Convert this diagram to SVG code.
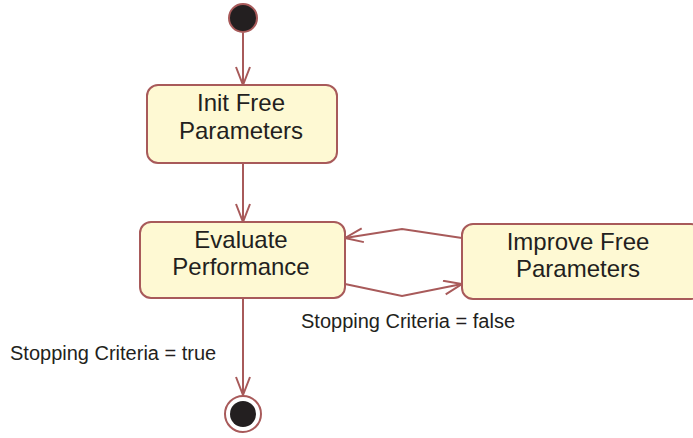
<svg xmlns="http://www.w3.org/2000/svg" width="693" height="438" viewBox="0 0 693 438">
<defs>
<style>
.node{fill:#FEF9D3;stroke:#A85A5A;stroke-width:2}
.t{font-family:"Liberation Sans",Arial,sans-serif;font-size:24px;fill:#231F20;text-anchor:middle}
.lbl{font-family:"Liberation Sans",Arial,sans-serif;font-size:20px;fill:#231F20}
.edge{fill:none;stroke:#A85A5A;stroke-width:2}
</style>
<marker id="arr" markerWidth="22" markerHeight="18" refX="19" refY="8" orient="auto" markerUnits="userSpaceOnUse">
<path d="M1,1 L19,8 L1,15" fill="none" stroke="#A85A5A" stroke-width="2"/>
</marker>
</defs>
<rect width="693" height="438" fill="#FFFFFF"/>
<g id="connectors">
<path class="edge" d="M243,33 L243,85" marker-end="url(#arr)"/>
<path class="edge" d="M243,163 L243,222" marker-end="url(#arr)"/>
<path class="edge" d="M243,298 L243,395" marker-end="url(#arr)"/>
<path class="edge" d="M462,238 L402,229 L345,238" marker-end="url(#arr)"/>
<path class="edge" d="M345,284 L402,296 L462,284" marker-end="url(#arr)"/>
<text class="lbl" x="301" y="328">Stopping Criteria = false</text>
<text class="lbl" x="10" y="360">Stopping Criteria = true</text>
</g>
<g id="start">
<circle cx="243" cy="18" r="14" fill="#231F20" stroke="#A85A5A" stroke-width="2"/>
</g>
<g id="init">
<rect class="node" x="147" y="85" width="190" height="78" rx="11"/>
<text class="t" x="241" y="111">Init Free</text>
<text class="t" x="241" y="139">Parameters</text>
</g>
<g id="evaluate">
<rect class="node" x="140" y="222" width="205" height="76" rx="11"/>
<text class="t" x="241" y="248">Evaluate</text>
<text class="t" x="241" y="275">Performance</text>
</g>
<g id="improve">
<rect class="node" x="462" y="224" width="240" height="75" rx="11"/>
<text class="t" x="578" y="250">Improve Free</text>
<text class="t" x="578" y="277">Parameters</text>
</g>
<g id="end">
<circle cx="243" cy="414" r="18" fill="#FFFFFF" stroke="#A85A5A" stroke-width="2"/>
<circle cx="243" cy="414" r="13" fill="#231F20"/>
</g>
</svg>
